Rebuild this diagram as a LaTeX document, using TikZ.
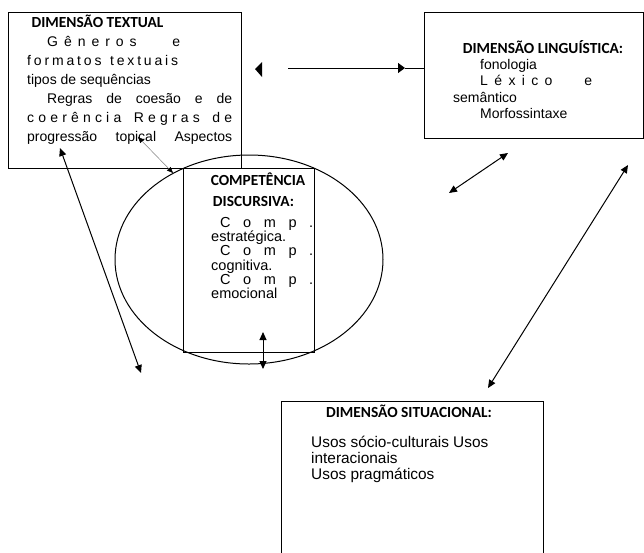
\documentclass[tikz,border=0pt]{standalone}
\usepackage{fontspec}
\setmainfont{Liberation Sans}
\newfontfamily\headfont{Carlito}
\usetikzlibrary{arrows.meta,shapes.geometric}
\begin{document}
\begin{tikzpicture}[x=1pt,y=-1pt,
  box/.style={draw, line width=1pt, inner sep=0pt, rectangle},
  head/.style={font=\headfont\bfseries\fontsize{15.4}{17}\selectfont, inner sep=0pt, anchor=base},
  body/.style={inner sep=0pt, anchor=base west},
  dbl/.style={line width=1pt, {Triangle[length=8pt,width=7pt]}-{Triangle[length=8pt,width=7pt]}},
]
\useasboundingbox (0,0) rectangle (644,552);
\clip (0,0) rectangle (644,552);
\fill[white] (0,0) rectangle (644,552);

% ellipse and boxes
\node[draw, line width=1pt, ellipse, inner sep=0pt, minimum width=268pt, minimum height=209pt] (ell) at (249,259.5) {};
\node[box, minimum width=233pt, minimum height=156pt] (tex) at (124.5,90) {};
\node[box, minimum width=219pt, minimum height=126pt] (ling) at (533.5,75) {};
\node[box, minimum width=131pt, minimum height=184pt] (comp) at (248.5,260) {};
\node[box, minimum width=262pt, minimum height=159pt] (situ) at (412,480.5) {};

% textual
\node[head] (texh) at (97.5,27) {DIMENSÃO TEXTUAL};
\node[body, font=\fontsize{14}{19}\selectfont] (text) at (27,46) {\parbox[t]{205pt}{%
\hspace*{20pt}\makebox[133pt][s]{G\hfill ê\hfill n\hfill e\hfill r\hfill o\hfill s\hspace{0pt plus 6fill}e}\\
\makebox[151pt][s]{f\hfill o\hfill r\hfill m\hfill a\hfill t\hfill o\hfill s\hspace{0pt plus 3fill}t\hfill e\hfill x\hfill t\hfill u\hfill a\hfill i\hfill s}\\
tipos de sequências\\
\hspace*{20pt}\makebox[185pt][s]{Regras de coesão e de}\\
\makebox[205pt][s]{c\hfill o\hfill e\hfill r\hfill ê\hfill n\hfill c\hfill i\hfill a\hspace{0pt plus 3fill}R\hfill e\hfill g\hfill r\hfill a\hfill s\hspace{0pt plus 3fill}d\hfill e}\\
\makebox[205pt][s]{progressão topical Aspectos}}};

% linguistic
\node[head] (lingh) at (543,53) {DIMENSÃO LINGUÍSTICA:};
\node[body, font=\fontsize{14}{16.5}\selectfont] (lingt) at (453,69) {\parbox[t]{160pt}{%
\hspace*{27pt}fonologia\\
\hspace*{27pt}\makebox[112pt][s]{L\hfill é\hfill x\hfill i\hfill c\hfill o\hspace{0pt plus 5fill}e}\\
semântico\\
\hspace*{27pt}Morfossintaxe}};

% competence
\node[head] (comph1) at (258,185) {COMPETÊNCIA};
\node[head] (comph2) at (253.5,206) {DISCURSIVA:};
\node[body, font=\fontsize{14.5}{12.6}\selectfont] (compt) at (211,227) {\parbox[t]{102pt}{%
\hspace*{9pt}\makebox[93pt][s]{C\hfill o\hfill m\hfill p\hfill .}\\
estratégica.\\
\hspace*{9pt}\makebox[93pt][s]{C\hfill o\hfill m\hfill p\hfill .}\\
cognitiva.\\
\hspace*{9pt}\makebox[93pt][s]{C\hfill o\hfill m\hfill p\hfill .}\\
emocional}};

% situational
\node[head] (situh) at (409,417) {DIMENSÃO SITUACIONAL:};
\node[body, font=\fontsize{15.4}{16}\selectfont] (situt) at (311,447) {\parbox[t]{220pt}{%
Usos sócio-culturais Usos\\
interacionais\\
Usos pragmáticos}};

% connectors
\coordinate (g1) at (138,137);
\coordinate (g2) at (173,173);
\draw[gray, line width=0.5pt, {Triangle[length=6pt,width=5pt,color=black]}-{Triangle[length=6pt,width=5pt,color=black]}] (g1) -- (g2);

\coordinate (l1) at (60,148);
\coordinate (l2) at (141,373);
\draw[dbl] (l1) -- (l2);

\coordinate (v1) at (263,332);
\coordinate (v2) at (263,369);
\draw[dbl] (v1) -- (v2);

\coordinate (s1) at (449,193);
\coordinate (s2) at (508,153);
\draw[dbl] (s1) -- (s2);

\coordinate (r1) at (488,388);
\coordinate (r2) at (628,165);
\draw[dbl] (r1) -- (r2);

\coordinate (lt) at (288,68);
\coordinate (lm) at (405,68);
\draw[line width=1pt, -{Triangle[length=7pt,width=10pt]}] (lt) -- (lm);
\draw[line width=1pt] (lm) -- (lm -| ling.west);
\fill (255,69) -- (262,62) -- (262,77) -- cycle;
\end{tikzpicture}
\end{document}
